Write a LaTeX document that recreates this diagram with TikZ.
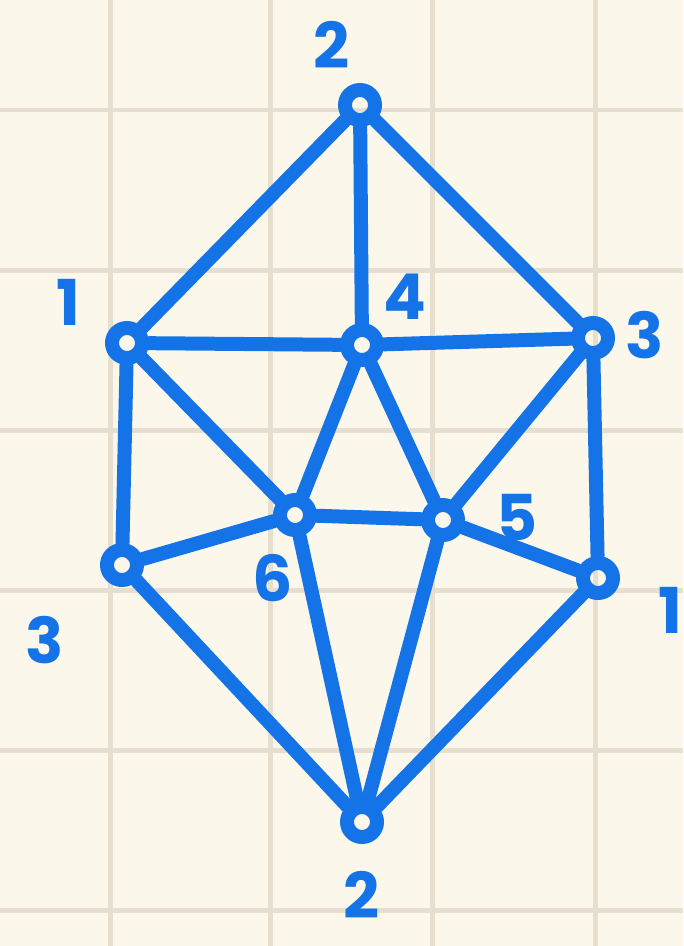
\documentclass[tikz,border=0pt]{standalone}
\usepackage{fontspec}
\setsansfont{Poppins}
\usetikzlibrary{positioning}
\definecolor{paper}{HTML}{FBF7EA}
\definecolor{gridline}{HTML}{E6DFCF}
\definecolor{ink}{HTML}{1473E6}

\begin{document}
\begin{tikzpicture}[x=0.02cm,y=-0.02cm,
  vertex/.style={draw=ink,circle,line width=0.28cm,minimum size=0.6cm,inner sep=0pt},
  edge/.style={draw=ink,line width=0.28cm,line cap=round},
  colour/.style={font=\fontsize{36}{36}\sffamily\bfseries,text=ink,inner sep=0pt}
]
% paper with grid
\fill[paper] (0,0) rectangle (683,946);
\useasboundingbox (0,0) rectangle (683,946);
\foreach \gx in {110,270,432,595}
  \draw[gridline,line width=0.1cm] (\gx,0) -- (\gx,946);
\foreach \gy in {110,270,430,590,750,910}
  \draw[gridline,line width=0.1cm] (0,\gy) -- (683,\gy);

\node[vertex] (top-2) at (360,105) {};
\node[vertex] (left-1) at (127,343) {};
\node[vertex] (mid-4) at (362,345) {};
\node[vertex] (right-3) at (593,338) {};
\node[vertex] (mid-6) at (295,515) {};
\node[vertex] (mid-5) at (443,520) {};
\node[vertex] (left-3) at (122,565) {};
\node[vertex] (right-1) at (598,578) {};
\node[vertex] (bot-2) at (362,822) {};

\node[colour] (top-2-lab) at (332,45) {2};
\node[colour] (left-1-lab) at (68,302) {1};
\node[colour] (mid-4-lab) at (405,297) {4};
\node[colour] (right-3-lab) at (645,335) {3};
\node[colour] (mid-6-lab) at (273,578) {6};
\node[colour] (mid-5-lab) at (517,517) {5};
\node[colour] (left-3-lab) at (45,640) {3};
\node[colour] (right-1-lab) at (670,610) {1};
\node[colour] (bot-2-lab) at (362,895) {2};

\draw[edge] (top-2) -- (left-1);
\draw[edge] (top-2) -- (mid-4);
\draw[edge] (top-2) -- (right-3);
\draw[edge] (left-1) -- (mid-4);
\draw[edge] (mid-4) -- (right-3);
\draw[edge] (left-1) -- (left-3);
\draw[edge] (left-1) -- (mid-6);
\draw[edge] (mid-4) -- (mid-6);
\draw[edge] (mid-4) -- (mid-5);
\draw[edge] (right-3) -- (mid-5);
\draw[edge] (right-3) -- (right-1);
\draw[edge] (mid-6) -- (mid-5);
\draw[edge] (left-3) -- (mid-6);
\draw[edge] (mid-5) -- (right-1);
\draw[edge] (left-3) -- (bot-2);
\draw[edge] (mid-6) -- (bot-2);
\draw[edge] (mid-5) -- (bot-2);
\draw[edge] (right-1) -- (bot-2);
\end{tikzpicture}
\end{document}
